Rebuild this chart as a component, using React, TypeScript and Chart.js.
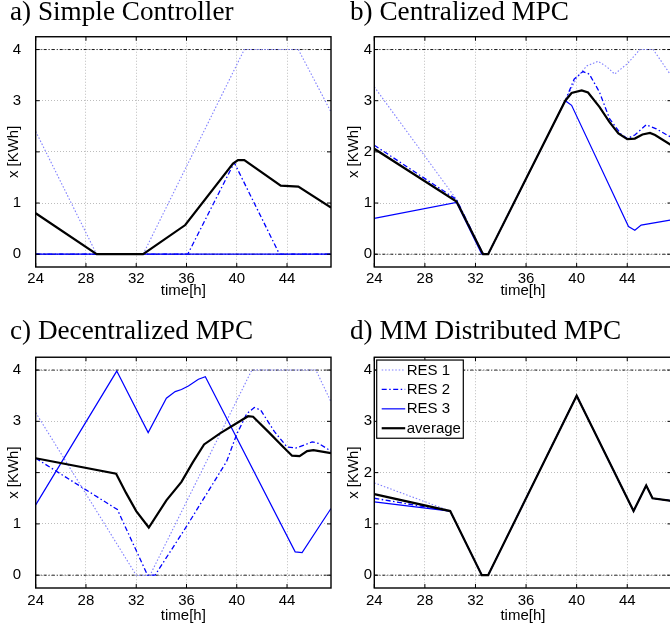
import React, { useEffect, useRef } from 'react';
import { Chart, registerables } from 'chart.js';

Chart.register(...registerables);

// ---------- shared axis data ----------
const xTicks = [24, 28, 32, 36, 40, 44];
const yTicks = [0, 1, 2, 3, 4];
const yTickLabelsLeft = ['0', '1', '', '3', '4'];
const yTickLabelsRight = ['0', '1', '2', '3', '4'];
const xMin = 24;
const xMax = 47.5;
const yMin = -0.25;
const yMax = 4.25;
const xAxisTitle = 'time[h]';
const yAxisTitle = 'x [KWh]';
const seriesNames = ['RES 1', 'RES 2', 'RES 3', 'average'];
const limitT = [24, 47.5];
const lowerLimitV = [0, 0];
const upperLimitV = [4, 4];

// ---------- a) Simple Controller ----------
const aRes1T = [24, 28.85, 32.55, 40.6, 44.9, 47.5];
const aRes1V = [2.4, 0, 0, 4, 4, 2.78];
const aRes2T = [24, 36.1, 39.8, 43.4, 47.5];
const aRes2V = [0, 0, 1.79, 0, 0];
const aRes3T = [24, 47.5];
const aRes3V = [0, 0];
const aAvgT = [24, 28.85, 32.55, 35.9, 39.7, 40.1, 40.6, 43.5, 44.9, 47.5];
const aAvgV = [0.8, 0, 0, 0.57, 1.77, 1.84, 1.84, 1.34, 1.32, 0.91];

// ---------- b) Centralized MPC ----------
const bRes1T = [24, 30.5, 32.6, 33.0, 39.1, 40.0, 40.8, 41.7, 42.4, 43.0, 44.0, 45.0, 46.05, 47.5];
const bRes1V = [3.27, 1.07, 0, 0, 3.0, 3.45, 3.68, 3.77, 3.66, 3.52, 3.72, 4.0, 4.0, 3.48];
const bRes2T = [24, 30.5, 32.55, 33.0, 39.1, 39.8, 40.5, 41.0, 41.8, 42.6, 43.5, 44.0, 44.6, 45.5, 46.3, 47.5];
const bRes2V = [2.13, 1.07, 0.03, 0, 3.0, 3.42, 3.57, 3.52, 3.17, 2.65, 2.35, 2.26, 2.33, 2.53, 2.45, 2.28];
const bRes3T = [24, 30.5, 32.5, 33.0, 39.1, 39.6, 44.1, 44.6, 45.1, 47.5];
const bRes3V = [0.7, 1.01, 0, 0, 3.0, 2.91, 0.54, 0.47, 0.57, 0.67];
const bAvgT = [24, 30.5, 32.6, 33.0, 39.1, 39.6, 40.4, 40.9, 41.8, 42.6, 43.3, 44.0, 44.6, 45.2, 45.8, 46.2, 47.5];
const bAvgV = [2.06, 1.03, 0, 0, 3.0, 3.15, 3.2, 3.16, 2.88, 2.58, 2.36, 2.25, 2.26, 2.34, 2.37, 2.33, 2.13];

// ---------- c) Decentralized MPC ----------
const cRes1T = [24, 32.0, 33.1, 41.2, 46.3, 47.5];
const cRes1V = [3.17, 0, 0, 4, 4, 3.38];
const cRes2T = [24, 30.5, 32.9, 33.5, 36.0, 39.2, 40.0, 40.8, 41.4, 41.9, 43.0, 44.0, 44.7, 45.5, 46.0, 46.5, 47.5];
const cRes2V = [2.28, 1.28, 0, 0, 0.95, 2.22, 2.75, 3.15, 3.27, 3.22, 2.8, 2.5, 2.48, 2.55, 2.6, 2.57, 2.42];
const cRes3T = [24, 30.45, 32.95, 34.4, 35.1, 35.6, 36.15, 36.95, 37.5, 44.65, 45.2, 47.5];
const cRes3V = [1.37, 3.98, 2.78, 3.45, 3.58, 3.62, 3.69, 3.82, 3.87, 0.455, 0.44, 1.3];
const cAvgT = [24, 30.4, 31.2, 32.0, 33.0, 34.4, 35.6, 36.5, 37.4, 38.7, 40.9, 41.3, 42.5, 43.7, 44.4, 45.0, 45.6, 46.1, 47.5];
const cAvgV = [2.28, 1.98, 1.6, 1.25, 0.93, 1.46, 1.82, 2.2, 2.55, 2.77, 3.1, 3.09, 2.8, 2.5, 2.33, 2.32, 2.42, 2.44, 2.38];

// ---------- d) MM Distributed MPC ----------
const dT = [24, 30, 32.5, 33.0, 40, 44.5, 45.5, 46.0, 47.5];
const dRes1V = [1.8, 1.25, 0, 0, 3.5, 1.25, 1.75, 1.5, 1.45];
const dRes2V = [1.5, 1.25, 0, 0, 3.5, 1.25, 1.75, 1.5, 1.45];
const dRes3V = [1.43, 1.25, 0, 0, 3.5, 1.25, 1.75, 1.5, 1.45];
const dAvgV = [1.58, 1.25, 0, 0, 3.5, 1.25, 1.75, 1.5, 1.45];

// ---------- styling ----------
const SANS = '"Liberation Sans", Arial, Helvetica, sans-serif';
const SERIF = '"Liberation Serif", "Times New Roman", serif';

const seriesStyles = [
  { color: '#7f7fff', width: 1.1, dash: [1.5, 1.9], order: 3 },
  { color: '#0000ff', width: 1.3, dash: [5, 2.5, 1.5, 2.5], order: 2 },
  { color: '#0000ff', width: 1.2, dash: [] as number[], order: 1 },
  { color: '#000000', width: 2.2, dash: [] as number[], order: 0 },
];

const zip = (t: number[], v: number[]) => t.map((x, i) => ({ x, y: v[i] }));

type Geo = {
  left: number; top: number; w: number; h: number;
  padL: number; padR: number;
  titlePadTop: number; titlePadBottom: number;
  yWidth: number; yTickPad: number; yTitlePad: number;
  xHeight: number; xTickPad: number; xTitlePad: number;
};

type PanelDef = {
  title: string;
  series: { t: number[]; v: number[] }[];
  yLabels: string[];
  legend: boolean;
  geo: Geo;
};

const topRowV = { top: 0, h: 305, titlePadTop: -3.8, titlePadBottom: 7.9, xHeight: 38, xTickPad: 2.5, xTitlePad: 4.7 };
const botRowV = { top: 320, h: 307, titlePadTop: -4.8, titlePadBottom: 9.4, xHeight: 39, xTickPad: 3.8, xTitlePad: 2.3 };
const leftColH = { left: 0, w: 345, padL: 10, padR: 14, yWidth: 25.7, yTickPad: 14.7, yTitlePad: -5 };
const rightColH = { left: 335, w: 345, padL: 15, padR: 8.5, yWidth: 24.3, yTickPad: 2.3, yTitlePad: -5 };

const panels: PanelDef[] = [
  {
    title: 'a) Simple Controller',
    series: [
      { t: aRes1T, v: aRes1V }, { t: aRes2T, v: aRes2V }, { t: aRes3T, v: aRes3V }, { t: aAvgT, v: aAvgV },
    ],
    yLabels: yTickLabelsLeft,
    legend: false,
    geo: { ...topRowV, ...leftColH },
  },
  {
    title: 'b) Centralized MPC',
    series: [
      { t: bRes1T, v: bRes1V }, { t: bRes2T, v: bRes2V }, { t: bRes3T, v: bRes3V }, { t: bAvgT, v: bAvgV },
    ],
    yLabels: yTickLabelsRight,
    legend: false,
    geo: { ...topRowV, ...rightColH },
  },
  {
    title: 'c) Decentralized MPC',
    series: [
      { t: cRes1T, v: cRes1V }, { t: cRes2T, v: cRes2V }, { t: cRes3T, v: cRes3V }, { t: cAvgT, v: cAvgV },
    ],
    yLabels: yTickLabelsLeft,
    legend: false,
    geo: { ...botRowV, ...leftColH },
  },
  {
    title: 'd) MM Distributed MPC',
    series: [
      { t: dT, v: dRes1V }, { t: dT, v: dRes2V }, { t: dT, v: dRes3V }, { t: dT, v: dAvgV },
    ],
    yLabels: yTickLabelsRight,
    legend: true,
    geo: { ...botRowV, ...rightColH },
  },
];

// frame (box on) with inward ticks, like MATLAB axes
const framePlugin = {
  id: 'frameBox',
  afterDatasetsDraw(chart: any) {
    const { ctx, chartArea, scales } = chart;
    const { left, right, top, bottom } = chartArea;
    ctx.save();
    ctx.setLineDash([]);
    ctx.strokeStyle = '#000';
    ctx.lineWidth = 1;
    const L = 4;
    ctx.beginPath();
    scales.x.ticks.forEach((tk: any) => {
      const px = scales.x.getPixelForValue(tk.value);
      ctx.moveTo(px, bottom); ctx.lineTo(px, bottom - L);
      ctx.moveTo(px, top); ctx.lineTo(px, top + L);
    });
    scales.y.ticks.forEach((tk: any) => {
      const py = scales.y.getPixelForValue(tk.value);
      ctx.moveTo(left, py); ctx.lineTo(left + L, py);
      ctx.moveTo(right, py); ctx.lineTo(right - L, py);
    });
    ctx.stroke();
    ctx.lineWidth = 1.4;
    ctx.strokeRect(left, top, right - left, bottom - top);
    ctx.restore();
  },
};

const boxLegendPlugin = {
  id: 'boxLegend',
  afterDraw(chart: any) {
    const { ctx, chartArea } = chart;
    const x0 = chartArea.left + 2.4;
    const y0 = chartArea.top + 2.8;
    const w = 86.6;
    const h = 78.2;
    ctx.save();
    ctx.fillStyle = '#fff';
    ctx.fillRect(x0, y0, w, h);
    ctx.strokeStyle = '#000';
    ctx.lineWidth = 1.2;
    ctx.setLineDash([]);
    ctx.strokeRect(x0, y0, w, h);
    const items = chart.data.datasets.filter((d: any) => d.inLegend);
    items.sort((a: any, b: any) => a.legendIndex - b.legendIndex);
    ctx.font = `15px ${SANS}`;
    ctx.textBaseline = 'middle';
    ctx.textAlign = 'left';
    items.forEach((d: any, i: number) => {
      const y = y0 + 10 + i * 19.4;
      ctx.strokeStyle = d.borderColor;
      ctx.lineWidth = d.borderWidth;
      ctx.setLineDash(d.borderDash || []);
      ctx.beginPath();
      ctx.moveTo(x0 + 5, y);
      ctx.lineTo(x0 + 28.5, y);
      ctx.stroke();
      ctx.setLineDash([]);
      ctx.fillStyle = '#000';
      ctx.fillText(d.label, x0 + 30, y + 0.5);
    });
    ctx.restore();
  },
};

function buildConfig(p: PanelDef): any {
  const g = p.geo;
  const datasets: any[] = p.series.map((s, i) => ({
    label: seriesNames[i],
    data: zip(s.t, s.v),
    borderColor: seriesStyles[i].color,
    borderWidth: seriesStyles[i].width,
    borderDash: seriesStyles[i].dash,
    order: seriesStyles[i].order,
    pointRadius: 0,
    fill: false,
    tension: 0,
    inLegend: true,
    legendIndex: i,
  }));
  [lowerLimitV, upperLimitV].forEach((v) => {
    datasets.push({
      label: 'limit',
      data: zip(limitT, v),
      borderColor: '#000',
      borderWidth: 0.9,
      borderDash: [3, 2, 1, 2],
      order: 5,
      pointRadius: 0,
      fill: false,
      inLegend: false,
    });
  });

  const gridOpts = { color: '#bdbdbd', lineWidth: 1, drawTicks: false };
  return {
    type: 'line',
    data: { datasets },
    plugins: p.legend ? [framePlugin, boxLegendPlugin] : [framePlugin],
    options: {
      animation: false,
      responsive: false,
      maintainAspectRatio: false,
      devicePixelRatio: window.devicePixelRatio || 1,
      events: [],
      layout: { padding: { left: g.padL, right: g.padR, top: 0, bottom: 0 } },
      plugins: {
        legend: { display: false },
        tooltip: { enabled: false },
        title: {
          display: true,
          text: p.title,
          align: 'start',
          color: '#000',
          font: { family: SERIF, size: 27.2, weight: 'normal' },
          padding: { top: g.titlePadTop, bottom: g.titlePadBottom },
        },
      },
      scales: {
        x: {
          type: 'linear',
          min: xMin,
          max: xMax,
          afterBuildTicks: (scale: any) => {
            scale.ticks = xTicks.map((v) => ({ value: v }));
          },
          afterFit: (scale: any) => {
            scale.height = g.xHeight;
          },
          ticks: {
            autoSkip: false,
            maxRotation: 0,
            minRotation: 0,
            padding: g.xTickPad,
            color: '#000',
            font: { family: SANS, size: 15 },
          },
          grid: gridOpts,
          border: { display: false, dash: [1, 2] },
          title: {
            display: true,
            text: xAxisTitle,
            color: '#000',
            font: { family: SANS, size: 15 },
            padding: { top: 0, bottom: g.xTitlePad },
          },
        },
        y: {
          type: 'linear',
          min: yMin,
          max: yMax,
          afterBuildTicks: (scale: any) => {
            scale.ticks = yTicks.map((v) => ({ value: v }));
          },
          afterFit: (scale: any) => {
            scale.width = g.yWidth;
          },
          ticks: {
            autoSkip: false,
            padding: g.yTickPad,
            color: '#000',
            font: { family: SANS, size: 15 },
            callback: (_v: any, idx: number) => p.yLabels[idx],
          },
          grid: gridOpts,
          border: { display: false, dash: [1, 2] },
          title: {
            display: true,
            text: yAxisTitle,
            color: '#000',
            font: { family: SANS, size: 15 },
            padding: { top: g.yTitlePad, bottom: 0 },
          },
        },
      },
    },
  };
}

function Panel({ p }: { p: PanelDef }) {
  const ref = useRef<HTMLCanvasElement>(null);
  useEffect(() => {
    if (!ref.current) return;
    const chart = new Chart(ref.current, buildConfig(p));
    return () => chart.destroy();
  }, [p]);
  const g = p.geo;
  return (
    <canvas
      ref={ref}
      width={g.w}
      height={g.h}
      style={{ position: 'absolute', left: g.left, top: g.top, width: g.w, height: g.h }}
    />
  );
}

export default function App() {
  return (
    <div
      style={{
        position: 'absolute',
        left: 0,
        top: 0,
        width: 670,
        height: 627,
        overflow: 'hidden',
        background: '#fff',
      }}
    >
      {panels.map((p) => (
        <Panel key={p.title} p={p} />
      ))}
    </div>
  );
}
